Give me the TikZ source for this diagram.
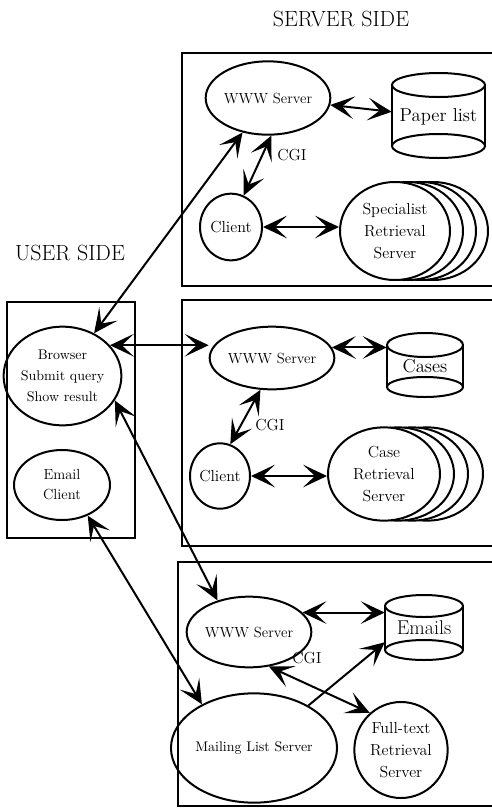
\documentclass[tikz,border=0pt]{standalone}
\usetikzlibrary{shapes.geometric,arrows.meta,calc}
\begin{document}
\begin{tikzpicture}[x=0.75pt,y=-0.75pt,
  ell/.style={draw, ellipse, line width=1.5pt, inner sep=0pt, align=center, font=\fontsize{11}{16}\selectfont},
  panel/.style={line width=1.6pt},
  cyl/.style={line width=1.5pt},
  link/.style={line width=1.5pt, {Stealth[length=18pt,width=17pt,inset=9pt]}-{Stealth[length=18pt,width=17pt,inset=9pt]}},
  onelink/.style={line width=1.5pt, -{Stealth[length=18pt,width=17pt,inset=9pt]}},
  dbtext/.style={inner sep=0pt, font=\fontsize{14}{16}\selectfont},
  cgi/.style={inner sep=0pt, font=\fontsize{12}{14}\selectfont},
  title/.style={inner sep=0pt, font=\fontsize{16.5}{19}\selectfont}
]
\useasboundingbox (0,0) rectangle (492,808);
\clip (0,0) rectangle (492,808);

% titles
\node[title] (ts) at (341,19) {SERVER SIDE};
\node[title] (tu) at (70,253) {USER SIDE};

% panels
\draw[panel] (182,53) rectangle (520,286);
\draw[panel] (182,300) rectangle (520,546);
\draw[panel] (178,562) rectangle (520,806);
\draw[panel] (7,302) rectangle (135,538);

% ---------- user side ----------
\node[ell, minimum width=74pt, minimum height=74pt, font=\fontsize{10.5}{15.5}\selectfont] (browser) at (62.5,376) {Browser\\Submit query\\Show result};
\node[ell, minimum width=72pt, minimum height=52.5pt, font=\fontsize{11}{15}\selectfont] (email) at (62,485) {Email\\Client};

% ---------- top panel ----------
\node[ell, minimum width=77pt, minimum height=55pt] (www1) at (268,98) {WWW Server};
\node[ell, minimum width=46.5pt, minimum height=50pt, font=\fontsize{12}{14}\selectfont] (client1) at (231,227) {Client};
\foreach \dx in {38,26,13}{
  \draw[line width=1.5pt, fill=white] (395+\dx,231) ellipse [x radius=41.25pt, y radius=36.75pt];
}
\node[ell, fill=white, minimum width=82.5pt, minimum height=73.5pt, font=\fontsize{12}{16.5}\selectfont] (spec) at (395,231) {Specialist\\Retrieval\\Server};
% Paper list cylinder
\draw[cyl] (392,85) -- (392,146) (485,85) -- (485,146);
\draw[cyl] (438.5,85) ellipse [x radius=34.9pt, y radius=9pt];
\draw[cyl] (438.5,146) ellipse [x radius=34.9pt, y radius=9pt];
\node[dbtext, minimum width=69.75pt, minimum height=63.75pt] (paper) at (438.5,117) {Paper list};
\node[cgi] (cgi1) at (292,155) {CGI};

\draw[link] (www1) -- (paper);
\draw[link] (www1.-85) -- (client1.68);
\draw[link] (client1.east) -- (client1.east -| spec.west);
\draw[link] (browser) -- (www1);

% ---------- middle panel ----------
\node[ell, minimum width=75pt, minimum height=47pt] (www2) at (272,358) {WWW Server};
\node[ell, minimum width=45pt, minimum height=49pt, font=\fontsize{12}{14}\selectfont] (client2) at (220,476) {Client};
\foreach \dx in {43,28,14}{
  \draw[line width=1.5pt, fill=white] (384+\dx,474) ellipse [x radius=42pt, y radius=35pt];
}
\node[ell, fill=white, minimum width=84pt, minimum height=70pt, font=\fontsize{12}{16.5}\selectfont] (case) at (384,474) {Case\\Retrieval\\Server};
% Cases cylinder
\draw[cyl] (387,345) -- (387,387) (463,345) -- (463,387);
\draw[cyl] (425,345) ellipse [x radius=28.5pt, y radius=9pt];
\draw[cyl] (425,387) ellipse [x radius=28.5pt, y radius=7.5pt];
\node[dbtext, minimum width=57pt, minimum height=48pt] (cases) at (425,366) {Cases};
\node[cgi] (cgi2) at (270,425) {CGI};

\draw[link] (www2.10) -- (www2.10 -| cases.west);
\draw[link] (www2.-110) -- (client2.72);
\draw[link] (client2.east) -- (client2.east -| case.west);
\draw[link] (browser.33) -- (browser.33 -| www2.west);

% ---------- bottom panel ----------
\node[ell, minimum width=79pt, minimum height=53pt] (www3) at (249,632) {WWW Server};
\node[ell, minimum width=88.5pt, minimum height=82pt, font=\fontsize{10.5}{14}\selectfont] (mail) at (254,748) {Mailing List Server};
\node[ell, minimum width=70pt, minimum height=72pt, font=\fontsize{12}{16.5}\selectfont] (full) at (401,750) {Full-text\\Retrieval\\Server};
% Emails cylinder
\draw[cyl] (385,606) -- (385,650) (463,606) -- (463,650);
\draw[cyl] (424,606) ellipse [x radius=29.25pt, y radius=8.25pt];
\draw[cyl] (424,650) ellipse [x radius=29.25pt, y radius=7.5pt];
\node[dbtext, minimum width=58.5pt, minimum height=48.75pt, font=\fontsize{15}{17}\selectfont] (emails) at (424,628) {Emails};
\node[cgi] (cgi3) at (307,658) {CGI};

\draw[link] (www3.20) -- (www3.20 -| emails.west);
\draw[onelink] (mail.38) -- (emails.-160);
\draw[link] (www3.-60) -- (full.130);
\draw[link] (browser.-25) -- (www3.135);
\draw[link] (email.-50) -- (mail.140);
\end{tikzpicture}
\end{document}
